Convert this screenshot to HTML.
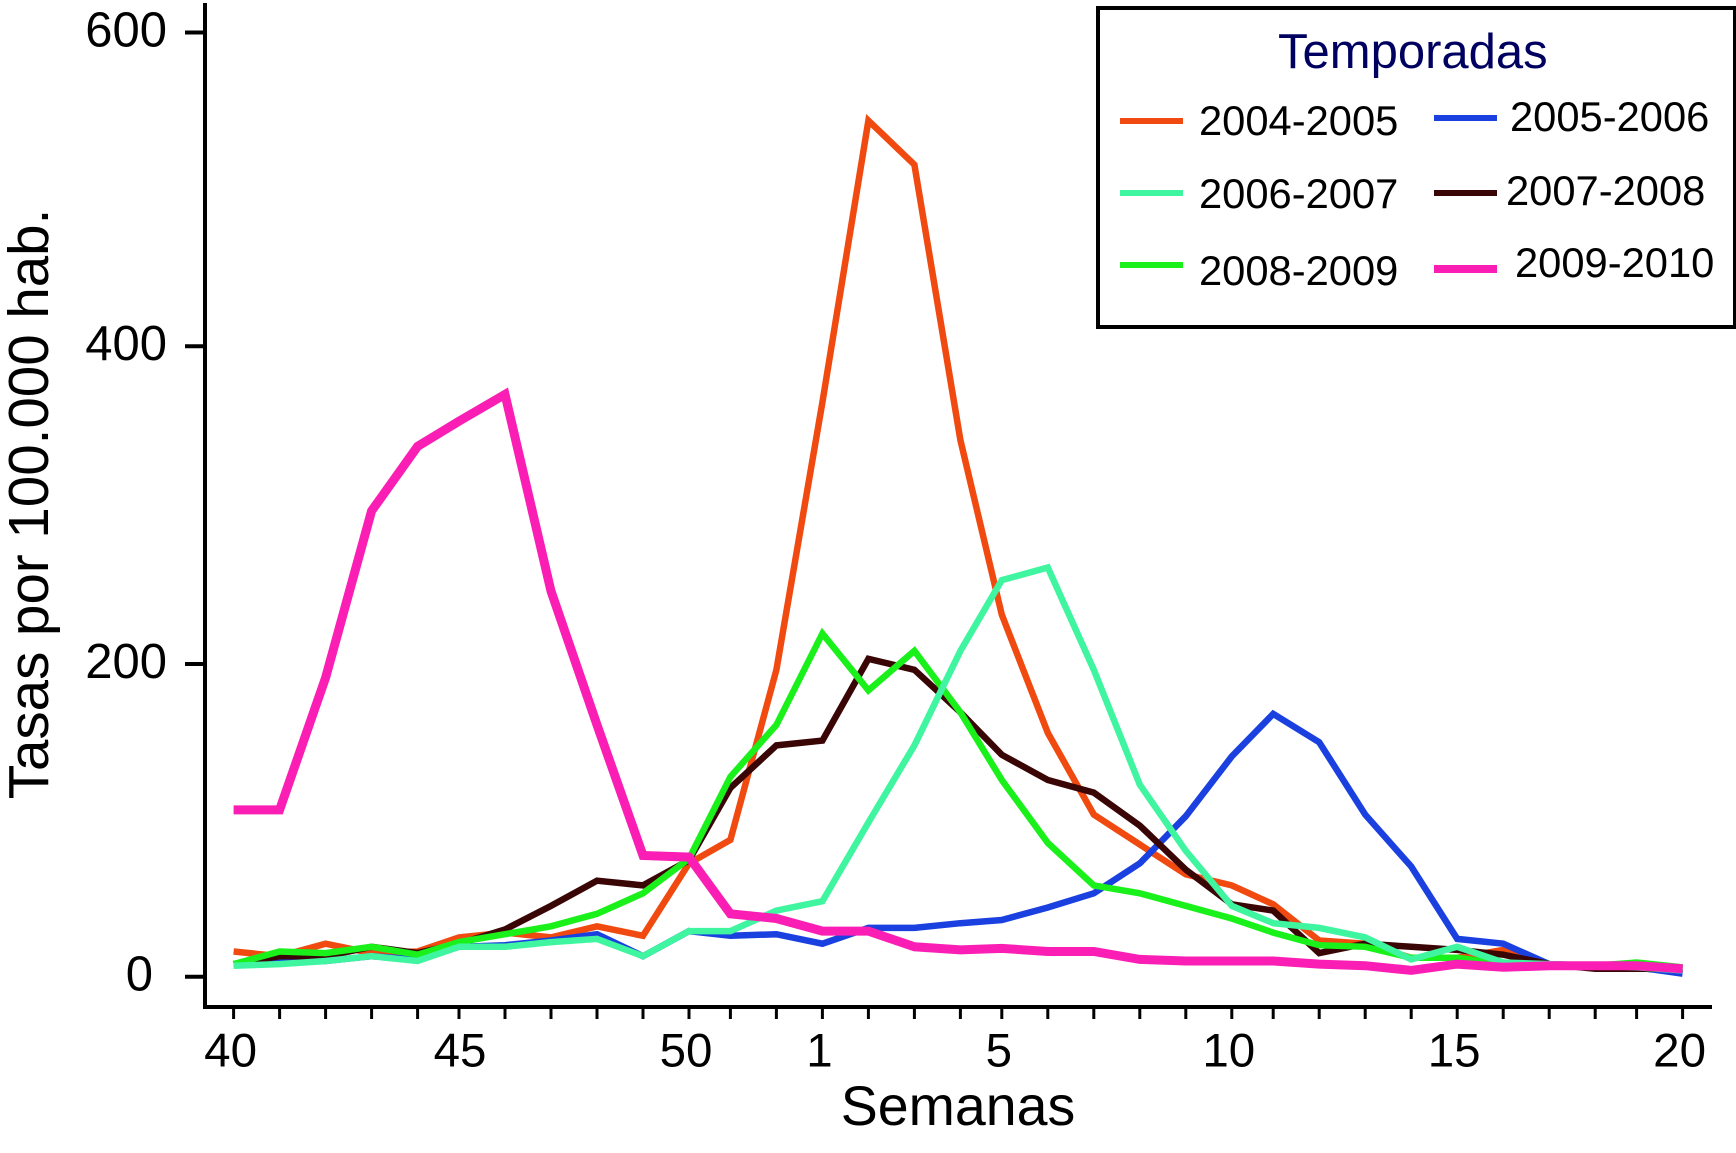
<!DOCTYPE html>
<html lang="es">
<head>
<meta charset="utf-8">
<title>Tasas por 100.000 hab. por semanas</title>
<style>
html,body{margin:0;padding:0;background:#fff;width:1736px;height:1153px;overflow:hidden}
svg{display:block}
text{font-family:"Liberation Sans",Arial,sans-serif;fill:#000}
</style>
</head>
<body>
<svg id="chart" xmlns="http://www.w3.org/2000/svg" width="1736" height="1153" viewBox="0 0 1736 1153">
  <rect x="0" y="0" width="1736" height="1153" fill="#fff"/>
  <g id="series-layer"></g>
  <g id="axes-layer"></g>
  <text x="958" y="1125" font-size="55.5" text-anchor="middle">Semanas</text>
  <text transform="translate(48,504) rotate(-90)" font-size="56.5" text-anchor="middle">Tasas por 100.000 hab.</text>
  <g>
    <rect x="1098" y="8" width="637" height="319" fill="#fff" stroke="#000" stroke-width="4"/>
    <text x="1278" y="68" font-size="49" style="fill:#000060">Temporadas</text>
    <g>
      <rect x="1120" y="118" width="63" height="6" fill="#f04a10"/>
      <text x="1199" y="135" font-size="41.7">2004-2005</text>
    </g>
    <g>
      <rect x="1434" y="115" width="63" height="6" fill="#1a40e0"/>
      <text x="1510" y="131" font-size="41.7">2005-2006</text>
    </g>
    <g>
      <rect x="1120" y="190" width="63" height="6" fill="#40f5a0"/>
      <text x="1199" y="208" font-size="41.7">2006-2007</text>
    </g>
    <g>
      <rect x="1434" y="190" width="63" height="6" fill="#3a0505"/>
      <text x="1506" y="205" font-size="41.7">2007-2008</text>
    </g>
    <g>
      <rect x="1120" y="262" width="63" height="6" fill="#1af01a"/>
      <text x="1199" y="285" font-size="41.7">2008-2009</text>
    </g>
    <g>
      <rect x="1434" y="265" width="63" height="8" fill="#fa1eb4"/>
      <text x="1515" y="277" font-size="41.7">2009-2010</text>
    </g>
  </g>
</svg>
<script>
var weeks = [40,41,42,43,44,45,46,47,48,49,50,51,52,1,2,3,4,5,6,7,8,9,10,11,12,13,14,15,16,17,18,19,20];
var xTickLabels = [40,45,50,1,5,10,15,20];
var yTickValues = [0,200,400,600];
var season0405 = [16,13,21,15,16,25,28,25,32,26,72,87,195,365,544,516,341,230,155,103,84,65,58,46,23,21,12,12,17,8,6,7,5];
var season0506 = [8,9,10,13,11,19,20,23,27,13,29,26,27,21,31,31,34,36,44,53,72,102,140,167,149,103,70,24,21,8,7,6,2];
var season0607 = [7,8,10,13,10,19,19,22,24,13,29,29,42,48,98,147,207,252,260,195,122,80,45,34,31,25,11,19,9,8,7,6,4];
var season0708 = [8,13,13,19,15,21,30,45,61,58,74,120,147,150,202,195,168,141,125,117,96,68,46,42,15,21,19,17,14,8,5,5,5];
var season0809 = [8,16,15,19,14,22,27,32,40,53,75,127,160,218,182,207,168,125,85,58,53,45,37,28,20,19,12,12,8,7,7,9,6];
var season0910 = [106,106,190,296,337,353,370,245,160,77,76,40,37,29,29,19,17,18,16,16,11,10,10,10,8,7,4,8,6,7,7,7,5];

var NS = 'http://www.w3.org/2000/svg';
/* The source axis is slightly uneven: a few week gaps are narrower than the rest. */
function xAt(i){
  var x = 233.6;
  for (var k = 0; k < i; k++) {
    x += (k === 4 || k === 10 || k === 16 || k === 22 || k === 30) ? 41.4 : 46;
  }
  return x;
}
function yAt(v){ return 976.7 - v * 1.5737; }

var seriesLayer = document.getElementById('series-layer');
var axesLayer = document.getElementById('axes-layer');

function drawSeries(name, values, color, width){
  var pts = [];
  for (var i = 0; i < values.length; i++) {
    pts.push(xAt(i).toFixed(1) + ',' + yAt(values[i]).toFixed(1));
  }
  var line = document.createElementNS(NS, 'polyline');
  line.setAttribute('points', pts.join(' '));
  line.setAttribute('fill', 'none');
  line.setAttribute('stroke', color);
  line.setAttribute('stroke-width', width);
  line.setAttribute('stroke-linejoin', 'miter');
  
  
  seriesLayer.appendChild(line);
}
drawSeries('2004-2005', season0405, '#f04a10', 6.5);
drawSeries('2005-2006', season0506, '#1a40e0', 6.5);
drawSeries('2007-2008', season0708, '#3a0505', 6.5);
drawSeries('2008-2009', season0809, '#1af01a', 6.5);
drawSeries('2006-2007', season0607, '#40f5a0', 6.5);
drawSeries('2009-2010', season0910, '#fa1eb4', 9);

function makeLine(x1, y1, x2, y2, w){
  var l = document.createElementNS(NS, 'line');
  l.setAttribute('x1', x1);
  l.setAttribute('y1', y1);
  l.setAttribute('x2', x2);
  l.setAttribute('y2', y2);
  l.setAttribute('stroke', '#000');
  l.setAttribute('stroke-width', w);
  axesLayer.appendChild(l);
  return l;
}
function makeText(str, x, y, anchor, size){
  var t = document.createElementNS(NS, 'text');
  t.setAttribute('x', x);
  t.setAttribute('y', y);
  t.setAttribute('font-size', size);
  t.setAttribute('text-anchor', anchor);
  t.textContent = str;
  axesLayer.appendChild(t);
  return t;
}

var yAxis = makeLine(205, 3, 205, 1009, 4);


var xAxis = makeLine(203, 1007, 1712, 1007, 4);



yTickValues.forEach(function(v){
  var ty = yAt(v) + (v === 200 ? 2 : v === 400 ? -1 : 0);
  var tick = makeLine(185, ty, 205, ty, 4);
  
  
  var label = makeText(String(v), v === 0 ? 153 : 167, ty + 14, 'end', 49);
  
  
});

weeks.forEach(function(w, i){
  var tick = makeLine(xAt(i), 1009, xAt(i), 1019, 3);
  
  
  if (xTickLabels.indexOf(w) !== -1) {
    var label = makeText(String(w), xAt(i) + (w === 45 ? 1 : -3), 1066.5, 'middle', 47.5);
    
    
  }
});
</script>
</body>
</html>
